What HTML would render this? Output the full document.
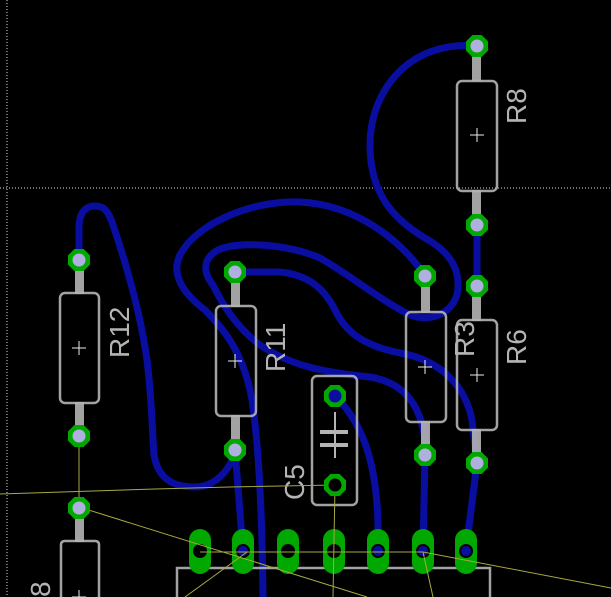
<!DOCTYPE html>
<html><head><meta charset="utf-8"><style>
html,body{margin:0;padding:0;background:#000;}
svg{display:block;}
text{font-family:"Liberation Sans",sans-serif;fill:#b4b4b4;}
</style></head><body>
<svg width="611" height="597" viewBox="0 0 611 597" xmlns="http://www.w3.org/2000/svg">
<defs>
<polygon id="oct" points="-4.6,-11 4.6,-11 11,-4.6 11,4.6 4.6,11 -4.6,11 -11,4.6 -11,-4.6"/>
</defs>
<rect width="611" height="597" fill="#000"/>
<line x1="7" y1="0" x2="7" y2="597" stroke="#ddd" stroke-width="1" stroke-dasharray="1,2"/>
<line x1="0" y1="188" x2="611" y2="188" stroke="#ddd" stroke-width="1" stroke-dasharray="1,2"/>

<!-- traces -->
<g stroke="#0a0ea0" stroke-width="7" fill="none" stroke-linecap="round" stroke-linejoin="round">
  <path d="M477,46 C410,40 370,90 370,145 C370,195 395,220 425,238 C450,252 462,270 457,295 C450,315 430,322 410,315 C380,300 350,275 320,258 C290,245 240,240 218,250 C200,260 205,275 213,285 C225,310 240,330 260,345 C290,365 320,372 370,377 C400,382 420,400 425,440 L425,455"/>
  <path d="M425,276 C405,245 360,205 300,202 C250,200 195,225 180,255 C170,275 185,295 205,310 C230,335 245,360 252,400 C258,440 262,500 263,597"/>
  <path d="M235,272 L280,272 C310,275 325,290 335,310 C345,330 360,345 400,353 C440,360 465,385 472,420 L477,463"/>
  <path d="M79,259 L79,228 C79,212 86,206 95,206 C105,206 108,212 112,222 C125,260 140,310 147,360 C152,400 152,430 154,455 C158,478 172,487 195,487 C215,487 230,470 235,452"/>
  <path d="M335,396 C365,425 380,470 378,550"/>
  <path d="M235,450 L243,550"/>
  <path d="M425,455 L423,550"/>
  <path d="M477,463 L466,550"/>
  <path d="M477,225 L477,286"/>
</g>

<!-- component bodies & legs (drawn over traces) -->
<g stroke="#b4b4b4" fill="none" stroke-width="2.5" opacity="0.9">
  <rect x="457" y="81" width="40" height="110" rx="5"/>
  <rect x="457" y="320" width="40" height="110" rx="5"/>
  <rect x="406" y="312" width="40" height="110" rx="5"/>
  <rect x="216" y="306" width="40" height="110" rx="5"/>
  <rect x="60" y="293" width="39" height="110" rx="5"/>
  <rect x="312" y="376" width="45" height="129" rx="5"/>
  <path d="M61,597 V545 Q61,541 65,541 H95 Q99,541 99,545 V597"/>
  <path d="M177,597 V568 H490 V597"/>
</g>
<g fill="#b4b4b4" opacity="0.9">
  <rect x="472" y="47" width="9" height="34"/><rect x="472" y="190" width="9" height="35"/>
  <rect x="472" y="286" width="9" height="35"/><rect x="472" y="429" width="9" height="35"/>
  <rect x="421" y="277" width="9" height="36"/><rect x="421" y="421" width="9" height="35"/>
  <rect x="231" y="272" width="9" height="35"/><rect x="231" y="415" width="9" height="36"/>
  <rect x="75" y="260" width="9" height="34"/><rect x="75" y="402" width="9" height="35"/>
  <rect x="75" y="508" width="9" height="34"/>
</g>
<g stroke="#eee" stroke-width="1">
  <path d="M470,135h14M477,128v14"/><path d="M470,375h14M477,368v14"/>
  <path d="M418,367h14M425,360v14"/><path d="M228,361h14M235,354v14"/>
  <path d="M72,348h14M79,341v14"/><path d="M72,597h14M79,590v7"/>
</g>
<g stroke="#b4b4b4" stroke-width="4"><path d="M320,432h28M320,445h28"/></g>
<path d="M335,412v46" stroke="#b4b4b4" stroke-width="2"/>

<text transform="translate(526,124) rotate(-90)" font-size="28">R8</text>
<text transform="translate(526,365) rotate(-90)" font-size="28">R6</text>
<text transform="translate(474,357) rotate(-90)" font-size="28">R3</text>
<text transform="translate(285,372) rotate(-90)" font-size="28">R11</text>
<text transform="translate(129,358) rotate(-90)" font-size="28">R12</text>
<text transform="translate(304,500) rotate(-90)" font-size="28">C5</text>
<text transform="translate(50,597) rotate(-90)" font-size="28">8</text>

<!-- IC pads -->
<g fill="#00a800">
  <rect x="189" y="529" width="22" height="45" rx="11"/>
  <rect x="232" y="529" width="22" height="45" rx="11"/>
  <rect x="277" y="529" width="22" height="45" rx="11"/>
  <rect x="323" y="529" width="22" height="45" rx="11"/>
  <rect x="367" y="529" width="22" height="45" rx="11"/>
  <rect x="412" y="529" width="22" height="45" rx="11"/>
  <rect x="455" y="529" width="22" height="45" rx="11"/>
</g>
<g fill="#000">
  <circle cx="200" cy="551" r="7"/><circle cx="243" cy="551" r="7"/><circle cx="288" cy="551" r="7"/>
  <circle cx="334" cy="551" r="7"/><circle cx="378" cy="551" r="7"/><circle cx="423" cy="551" r="7"/>
  <circle cx="466" cy="551" r="7"/>
</g>
<g fill="#0a0ea0">
  <circle cx="243" cy="551" r="5"/><circle cx="378" cy="551" r="5"/><circle cx="423" cy="551" r="5"/><circle cx="466" cy="551" r="5"/>
</g>

<!-- airwires -->
<g stroke="#a8a840" stroke-width="1" fill="none">
  <path d="M0,494 L155,489 L230,487 L335,485 L333,597"/>
  <path d="M79,436 L79,507 L367,597"/>
  <path d="M200,552 L423,552 L611,588"/>
  <path d="M247,552 L185,597"/>
  <path d="M423,552 L433,597"/>
</g>

<!-- through-hole pads -->
<g fill="#00a800">
  <use href="#oct" x="477" y="46"/><use href="#oct" x="477" y="225"/>
  <use href="#oct" x="477" y="286"/><use href="#oct" x="477" y="463"/>
  <use href="#oct" x="425" y="276"/><use href="#oct" x="425" y="455"/>
  <use href="#oct" x="235" y="272"/><use href="#oct" x="235" y="450"/>
  <use href="#oct" x="79" y="260"/><use href="#oct" x="79" y="436"/>
  <use href="#oct" x="79" y="508"/>
  <use href="#oct" x="335" y="396"/><use href="#oct" x="335" y="485"/>
</g>
<g fill="#b0b0e0">
  <circle cx="477" cy="46" r="6.5"/><circle cx="477" cy="225" r="6.5"/>
  <circle cx="477" cy="286" r="6.5"/><circle cx="477" cy="463" r="6.5"/>
  <circle cx="425" cy="276" r="6.5"/><circle cx="425" cy="455" r="6.5"/>
  <circle cx="235" cy="272" r="6.5"/><circle cx="235" cy="450" r="6.5"/>
  <circle cx="79" cy="260" r="6.5"/><circle cx="79" cy="436" r="6.5"/>
  <circle cx="79" cy="508" r="6.5"/>
</g>
<circle cx="335" cy="396" r="6.5" fill="#0a0ea0"/>
<circle cx="335" cy="485" r="6.5" fill="#000"/>
</svg>
</body></html>
